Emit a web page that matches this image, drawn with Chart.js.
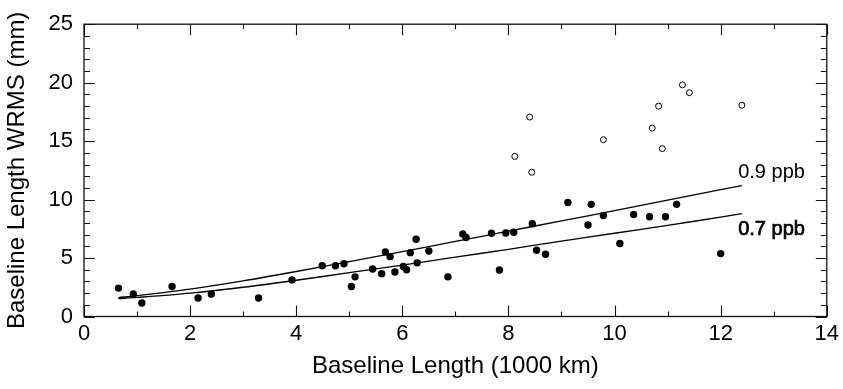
<!DOCTYPE html>
<html>
<head>
<meta charset="utf-8">
<script src="https://cdn.jsdelivr.net/npm/chart.js@4.4.0/dist/chart.umd.min.js"></script>
<style>
html,body{margin:0;padding:0;background:#fff;}
#wrap{width:843px;height:389px;position:relative;}
</style>
</head>
<body>
<div id="wrap"><canvas id="c" width="843" height="389"></canvas></div>
<script>
// ---- data ----
const xTitle = "Baseline Length (1000 km)";
const yTitle = "Baseline Length WRMS (mm)";

const filledX = [0.65,0.93,1.09,1.66,2.15,2.40,3.29,3.92,4.49,4.74,4.90,5.04,5.11,5.44,5.61,5.68,5.77,5.86,6.02,6.08,6.15,6.26,6.28,6.50,6.86,7.14,7.20,7.68,7.83,7.95,8.10,8.45,8.53,8.70,9.12,9.50,9.56,9.79,10.10,10.36,10.66,10.96,11.17,12.00];
const filledY = [2.43,1.92,1.16,2.57,1.58,1.92,1.58,3.13,4.34,4.34,4.51,2.57,3.39,4.06,3.66,5.52,5.12,3.81,4.28,4.00,5.46,6.61,4.59,5.60,3.39,7.06,6.76,7.12,3.98,7.14,7.20,7.94,5.66,5.32,9.76,7.83,9.59,8.64,6.25,8.72,8.53,8.53,9.59,5.38];

const openX = [8.12,8.40,8.44,9.79,10.71,10.83,10.90,11.28,11.41,12.40];
const openY = [13.69,17.06,12.34,15.12,16.11,17.99,14.36,19.81,19.14,18.07];

const curve09X = [0.65,1,2,3,4,5,6,7,8,9,10,11,12,12.4];
const curve09Y = [1.62,1.78,2.35,3.05,3.85,4.7,5.55,6.42,7.3,8.18,9.05,9.95,10.85,11.2];
const curve07X = [0.65,1,2,3,4,5,6,7,8,9,10,11,12,12.4];
const curve07Y = [1.53,1.63,2.0,2.5,3.1,3.75,4.4,5.07,5.75,6.45,7.12,7.8,8.5,8.8];

const curveLabels = ["0.9 ppb","0.7 ppb"];
const curveLabelX = [12.33, 12.33];
const curveLabelY = [12.34, 7.46];

const xMin = 0, xMax = 14, xMajor = 2, xMinor = 1;
const yMin = 0, yMax = 25, yMajor = 5, yMinor = 1;

// ---- build ----
const zip = (xs, ys) => xs.map((x, i) => ({x: x, y: ys[i]}));
const FONT = "'Liberation Sans', Arial, Helvetica, sans-serif";
const labelStroke = [0, 0.7];

const framePlugin = {
  id: 'frame',
  afterDatasetsDraw(chart) {
    const ctx = chart.ctx;
    const a = chart.chartArea;
    const xs = chart.scales.x, ys = chart.scales.y;
    ctx.save();
    ctx.strokeStyle = '#111';
    ctx.lineWidth = 1.3;
    ctx.strokeRect(a.left, a.top, a.right - a.left, a.bottom - a.top);
    ctx.lineWidth = 1.1;
    ctx.beginPath();
    for (let v = xMin; v <= xMax + 1e-9; v += xMinor) {
      const px = Math.round(xs.getPixelForValue(v)) + 0.5;
      const major = Math.abs(v / xMajor - Math.round(v / xMajor)) < 1e-6;
      const len = major ? 11 : 5;
      ctx.moveTo(px, a.bottom); ctx.lineTo(px, a.bottom - len);
      ctx.moveTo(px, a.top); ctx.lineTo(px, a.top + len);
    }
    for (let v = yMin; v <= yMax + 1e-9; v += yMinor) {
      const py = Math.round(ys.getPixelForValue(v)) + 0.5;
      const major = Math.abs(v / yMajor - Math.round(v / yMajor)) < 1e-6;
      const len = major ? 11 : 6;
      ctx.moveTo(a.left, py); ctx.lineTo(a.left + len, py);
      ctx.moveTo(a.right, py); ctx.lineTo(a.right - len, py);
    }
    ctx.stroke();
    // curve labels
    ctx.fillStyle = '#000';
    ctx.strokeStyle = '#000';
    ctx.textAlign = 'left';
    ctx.textBaseline = 'middle';
    ctx.font = "20px " + FONT;
    curveLabels.forEach((t, i) => {
      const px = xs.getPixelForValue(curveLabelX[i]);
      const py = ys.getPixelForValue(curveLabelY[i]);
      ctx.fillText(t, px, py);
      if (labelStroke[i] > 0) { ctx.lineWidth = labelStroke[i]; ctx.strokeText(t, px, py); }
    });
    ctx.restore();
  }
};

new Chart(document.getElementById('c'), {
  type: 'scatter',
  data: {
    datasets: [
      {data: zip(filledX, filledY), pointRadius: 3.7, pointBackgroundColor: '#000', pointBorderColor: '#000', pointBorderWidth: 0, showLine: false},
      {data: zip(openX, openY), pointRadius: 3, pointBackgroundColor: '#fff', pointBorderColor: '#000', pointBorderWidth: 1, showLine: false},
      {data: zip(curve09X, curve09Y), showLine: true, pointRadius: 0, borderColor: '#000', borderWidth: 1.3, tension: 0.3, fill: false},
      {data: zip(curve07X, curve07Y), showLine: true, pointRadius: 0, borderColor: '#000', borderWidth: 1.3, tension: 0.3, fill: false}
    ]
  },
  options: {
    responsive: false,
    animation: false,
    events: [],
    layout: {padding: {top: 20, right: 15, left: 0, bottom: 0}},
    plugins: {legend: {display: false}, tooltip: {enabled: false}},
    scales: {
      x: {
        type: 'linear', min: xMin, max: xMax,
        afterFit(s) { s.height = 72.5; },
        ticks: {stepSize: xMajor, color: '#000', font: {family: FONT, size: 22}, padding: 4},
        grid: {display: false, drawTicks: false},
        border: {display: false},
        title: {display: true, text: xTitle, color: '#000', font: {family: FONT, size: 24}, padding: {top: 0, bottom: 8}}
      },
      y: {
        type: 'linear', min: yMin, max: yMax,
        afterFit(s) { s.width = 84; },
        ticks: {stepSize: yMajor, color: '#000', font: {family: FONT, size: 22}, padding: 11},
        grid: {display: false, drawTicks: false},
        border: {display: false},
        title: {display: true, text: yTitle, color: '#000', font: {family: FONT, size: 24}, padding: {top: 3, bottom: 0}}
      }
    }
  },
  plugins: [framePlugin]
});
</script>
</body>
</html>
